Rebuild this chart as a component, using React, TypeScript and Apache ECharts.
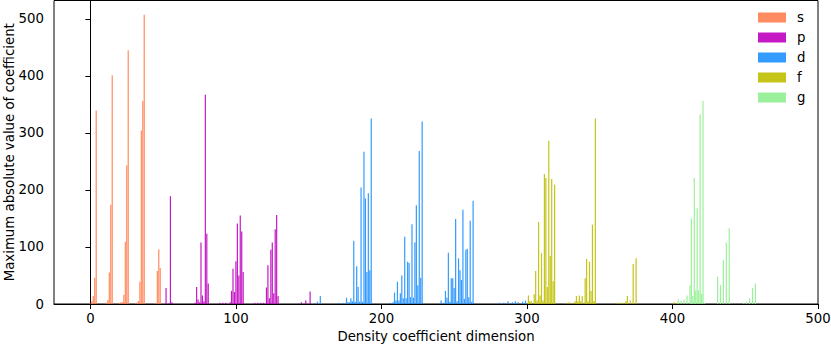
import React, { useEffect, useRef } from "react";
import * as echarts from "echarts";

// [dimension index, max |coefficient|]
const sBars: [number, number][] = [
  [0, 1], [1, 5], [2, 14], [3, 46], [4, 339],
  [11, 2], [12, 7], [13, 55], [14, 174], [15, 401],
  [20, 2], [21, 3], [22, 3], [23, 16], [24, 109], [25, 243], [26, 445],
  [31, 1], [32, 2], [33, 5], [34, 39], [35, 304], [36, 356], [37, 507],
  [44, 1], [45, 1], [46, 58], [47, 96], [48, 63],
];
const pBars: [number, number][] = [
  [52, 28], [54, 1], [55, 189], [56, 3],
  [72, 2], [73, 30], [74, 8], [75, 3], [76, 108], [77, 15], [78, 5], [79, 367], [80, 123], [81, 36],
  [89, 2], [91, 2], [93, 2], [96, 3], [97, 23], [98, 62], [99, 21], [100, 75], [101, 141], [102, 50], [103, 155], [104, 127], [105, 56],
  [113, 2], [115, 2], [117, 2], [119, 2], [121, 29], [122, 68], [123, 10], [124, 95], [125, 108], [126, 19], [127, 131], [128, 156], [129, 14],
  [145, 3], [148, 6], [151, 22],
];
const dBars: [number, number][] = [
  [156, 4], [158, 14],
  [171, 2], [174, 2], [176, 11], [177, 3], [178, 3], [179, 10], [180, 5], [181, 111], [182, 4], [183, 66], [184, 30], [185, 4], [186, 204], [187, 4], [188, 267], [189, 185], [190, 56], [191, 194], [192, 59], [193, 325],
  [206, 2], [208, 3], [209, 20], [210, 6], [211, 39], [212, 6], [213, 19], [214, 50], [215, 10], [216, 118], [217, 10], [218, 74], [219, 72], [220, 12], [221, 140], [222, 11], [223, 108], [224, 173], [225, 33], [226, 268], [227, 46], [228, 320],
  [241, 6], [243, 2], [244, 23], [245, 11], [246, 90], [247, 4], [248, 45], [249, 45], [250, 28], [251, 149], [252, 5], [253, 80], [254, 59], [255, 42], [256, 165], [257, 9], [258, 95], [259, 97], [260, 12], [261, 146], [262, 4], [263, 181],
  [281, 2], [284, 2], [287, 5], [290, 3], [292, 5], [294, 3], [297, 4], [299, 6],
];
const fBars: [number, number][] = [
  [301, 15], [302, 5], [303, 5], [305, 17], [306, 58], [307, 6], [308, 144], [309, 15], [310, 89], [311, 6], [312, 228], [313, 221], [314, 30], [315, 286], [316, 84], [317, 219], [318, 40], [319, 209],
  [327, 2], [329, 3], [331, 2], [333, 5], [334, 14], [335, 5], [336, 15], [337, 5], [338, 14], [340, 45], [341, 79], [342, 5], [343, 74], [344, 23], [345, 139], [346, 5], [347, 325],
  [362, 2], [364, 2], [366, 2], [368, 5], [369, 14], [371, 6], [373, 70], [375, 80],
  [401, 3], [403, 2],
];
const gBars: [number, number][] = [
  [404, 8], [406, 6], [408, 8], [410, 15], [412, 33], [413, 150], [414, 14], [415, 221], [416, 24], [417, 168], [418, 24], [419, 332], [420, 18], [421, 356], [422, 2],
  [431, 48], [433, 33], [435, 77], [437, 108], [439, 133],
  [449, 2], [451, 3], [453, 10], [455, 28], [457, 36],
];

const shellNames = ["s", "p", "d", "f", "g"];
const shellColors = ["#ff7f50", "#bf00bf", "#1e90ff", "#bfbf00", "#90ee90"];
const shellData = [sBars, pBars, dBars, fBars, gBars];
const xTicks = [0, 100, 200, 300, 400, 500];

const FONT = "DejaVu Sans";
const FS = 13.3;

export default function App() {
  const ref = useRef<HTMLDivElement>(null);
  useEffect(() => {
    if (!ref.current) return;
    const chart = echarts.init(ref.current, null, { renderer: "svg" });
    chart.setOption({
      animation: false,
      textStyle: { fontFamily: FONT, color: "#000" },
      grid: {
        left: 54,
        right: 13,
        top: 0.5,
        bottom: 41,
        show: true,
        borderColor: "#000",
        borderWidth: 1,
        backgroundColor: "transparent",
        outerBoundsMode: "none",
        containLabel: false,
      },
      legend: {
        data: shellNames,
        orient: "vertical",
        left: 758,
        top: 11,
        padding: 0,
        itemWidth: 28,
        itemHeight: 10,
        itemGap: 7,
        icon: "rect",
        textStyle: { fontFamily: FONT, fontSize: FS, color: "#000", padding: [0, 0, 0, 6], lineHeight: 13 },
      },
      xAxis: {
        type: "value",
        min: -25,
        max: 500,
        name: "Density coefficient dimension",
        nameLocation: "middle",
        nameGap: 26,
        nameMoveOverlap: false,
        nameTextStyle: { fontFamily: FONT, fontSize: FS, color: "#000" },
        splitLine: { show: false },
        axisLine: { show: true, lineStyle: { color: "#000", width: 1 } },
        axisTick: { show: true, inside: false, length: 5, lineStyle: { color: "#000" }, customValues: xTicks },
        axisLabel: { fontFamily: FONT, fontSize: FS, color: "#000", margin: 8, customValues: xTicks },
      },
      yAxis: {
        type: "value",
        min: 0,
        max: 532,
        interval: 100,
        name: "Maximum absolute value of coefficient",
        nameLocation: "middle",
        nameGap: 38,
        nameMoveOverlap: false,
        nameTextStyle: { fontFamily: FONT, fontSize: FS, color: "#000", lineHeight: FS },
        splitLine: { show: false },
        axisLine: { show: true, lineStyle: { color: "#000", width: 1 } },
        axisTick: { show: true, inside: false, length: 5, lineStyle: { color: "#000" } },
        axisLabel: { fontFamily: FONT, fontSize: FS, color: "#000", margin: 10, showMaxLabel: false },
      },
      series: shellNames.map((name, i) => ({
        name,
        type: "bar",
        data: shellData[i],
        barWidth: 1.2,
        barGap: "-100%",
        itemStyle: { color: shellColors[i], opacity: 0.9 },
      })),
    });
    return () => chart.dispose();
  }, []);
  return <div ref={ref} style={{ width: 831, height: 345, position: "absolute", left: 0, top: 0 }} />;
}
